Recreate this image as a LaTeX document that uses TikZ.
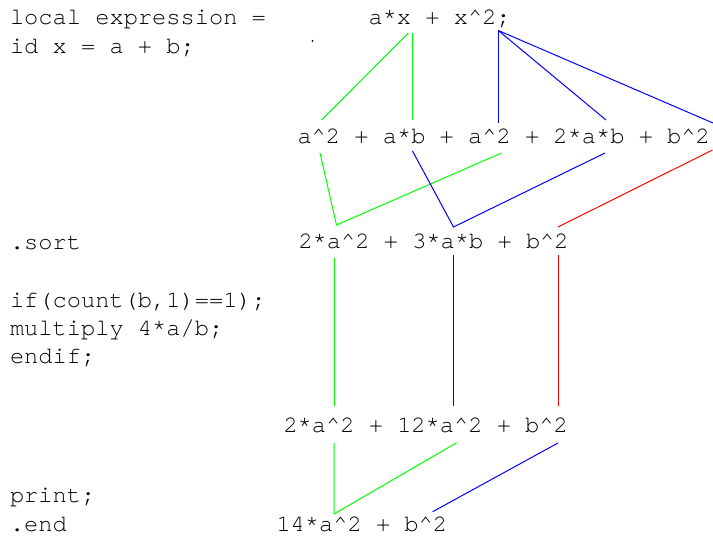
\documentclass[tikz,border=0pt]{standalone}
\usepackage{fontspec}
\setmainfont{TeX Gyre Cursor}
\definecolor{lgreen}{RGB}{0,255,0}
\definecolor{lblue}{RGB}{0,0,255}
\definecolor{lred}{RGB}{255,0,0}
\begin{document}
\begin{tikzpicture}[x=1pt,y=-1pt,
  txt/.style={anchor=base west,inner sep=0pt,outer sep=0pt,font=\fontsize{23.7}{28}\selectfont},
  gl/.style={draw=lgreen,line width=1pt},
  bl/.style={draw=lblue,line width=1pt},
  rl/.style={draw=lred,line width=1pt}]
\useasboundingbox (0,0) rectangle (713,537);
% left column
\node[txt] (l1) at (10,25) {local expression =};
\node[txt] (l2) at (10,54) {id x = a + b;};
\node[txt] (l3) at (10,250) {.sort};
\node[txt] (l4) at (10,308) {if(count(b,1)==1);};
\node[txt] (l5) at (10,336) {multiply 4*a/b;};
\node[txt] (l6) at (10,364) {endif;};
\node[txt] (l7) at (10,503) {print;};
\node[txt] (l8) at (10,532) {.end};
% right column
\node[txt] (e1) at (368.5,25) {a*x + x\string^2;};
\node[txt] (e2) at (297.5,144) {a\string^2 + a*b + a\string^2 + 2*a*b + b\string^2};
\node[txt] (e3) at (298.5,249) {2*a\string^2 + 3*a*b + b\string^2};
\node[txt] (e4) at (283.5,433) {2*a\string^2 + 12*a\string^2 + b\string^2};
\node[txt] (e5) at (276.5,532) {14*a\string^2 + b\string^2};
\fill (312.5,41) circle (1pt);
% connector end points
\coordinate (t1) at (408.3,33);
\coordinate (t2) at (412.3,33);
\coordinate (t3) at (498.3,30.5);
\coordinate (s1) at (321.7,120);
\coordinate (s2) at (412.3,120);
\coordinate (s3) at (498.3,123.5);
\coordinate (s4) at (606,120);
\coordinate (s5) at (713,123);
\coordinate (u1) at (320,153);
\coordinate (u2) at (501.5,153);
\coordinate (u3) at (412.5,151);
\coordinate (u4) at (605,153);
\coordinate (u5) at (712.5,150);
\coordinate (v1) at (336.5,225);
\coordinate (v2) at (453.5,227);
\coordinate (v3) at (558,227);
\coordinate (w1) at (334,258);
\coordinate (w2) at (453,255);
\coordinate (w3) at (558,255);
\coordinate (x1) at (334,406);
\coordinate (x2) at (453,406);
\coordinate (x3) at (558,406);
\coordinate (y1) at (334,443);
\coordinate (y2) at (456.7,442.7);
\coordinate (y3) at (558,443);
\coordinate (z1) at (334,514);
\coordinate (z2) at (432.7,511.7);
% connectors
\draw[gl] (t1) -- (s1);
\draw[gl] (t2) -- (s2);
\draw[bl] (t3) -- (s3);
\draw[bl] (t3) -- (s4);
\draw[bl] (t3) -- (s5);
\draw[gl] (u1) -- (v1) -- (u2);
\draw[bl] (u3) -- (v2) -- (u4);
\draw[rl] (u5) -- (v3);
\draw[gl] (w1) -- (x1);
\draw[bl] (w2) -- (x2);
\draw[rl] (w3) -- (x3);
\draw[gl] (y1) -- (z1) -- (y2);
\draw[bl] (y3) -- (z2);
\end{tikzpicture}
\end{document}
